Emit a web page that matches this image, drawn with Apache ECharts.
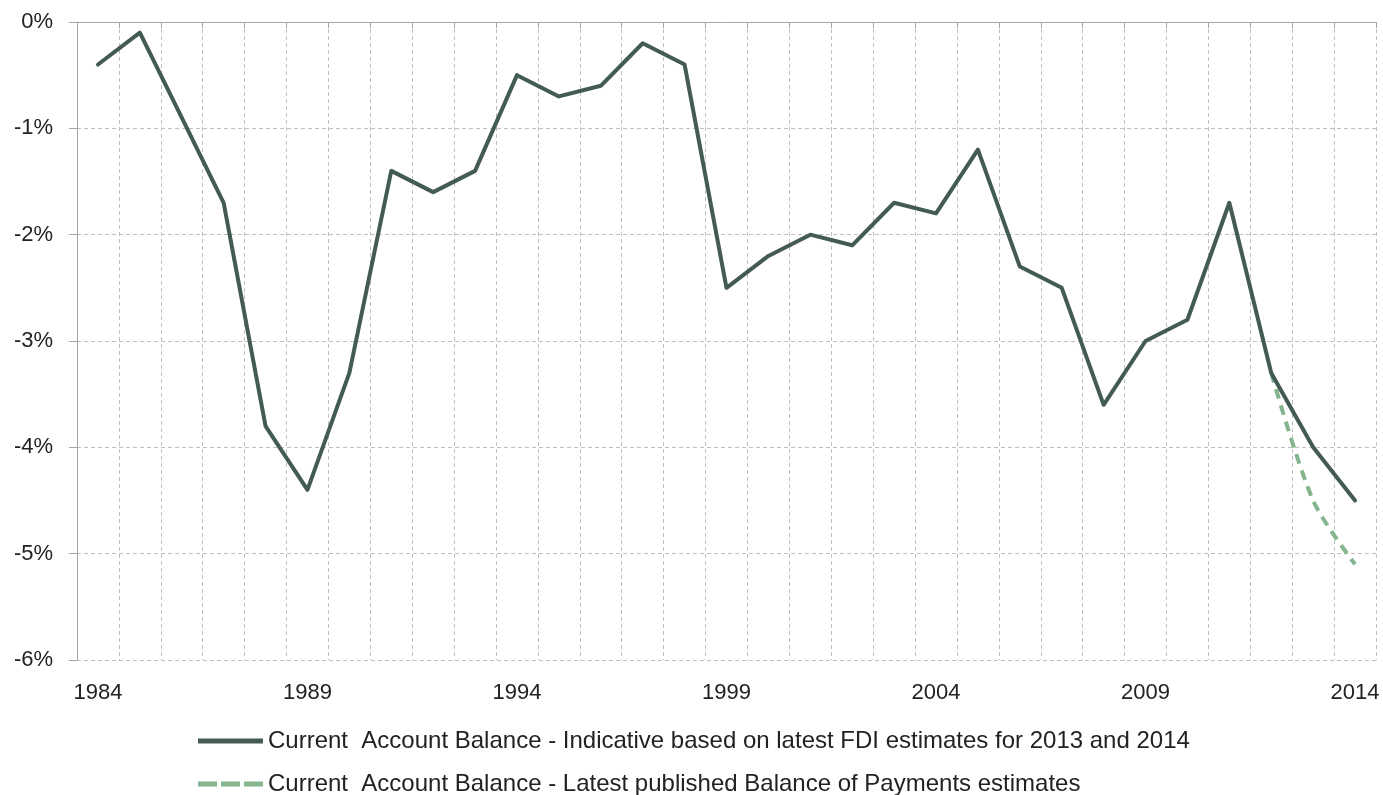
<!DOCTYPE html>
<html>
<head>
<meta charset="utf-8">
<script src="https://cdn.jsdelivr.net/npm/echarts@6/dist/echarts.min.js"></script>
<style>
  html, body { margin: 0; padding: 0; background: #fff; }
  #chart { width: 1383px; height: 795px; }
</style>
</head>
<body>
<div id="chart"></div>
<script>
// years on the category axis
const years = []
for (let y = 1984; y <= 2014; y++) years.push(String(y))

// current account balance, % of GDP
const indicative = [
  -0.4, -0.1, -0.9, -1.7, -3.8, -4.4, -3.3, -1.4, -1.6, -1.4,
  -0.5, -0.7, -0.6, -0.2, -0.4, -2.5, -2.2, -2.0, -2.1, -1.7,
  -1.8, -1.2, -2.3, -2.5, -3.6, -3.0, -2.8, -1.7, -3.3, -4.0, -4.5,
]
const published = years.map(() => null)
published[28] = -3.3
published[29] = -4.5
published[30] = -5.1

const nameSolid = 'Current  Account Balance - Indicative based on latest FDI estimates for 2013 and 2014'
const nameDashed = 'Current  Account Balance - Latest published Balance of Payments estimates'

const textColor = '#222'
const fontFamily = '"Liberation Sans", Arial, sans-serif'
const solidColor = '#435a55'
const dashColor = '#84b58f'

const legendBase = {
  orient: 'vertical',
  left: 198,
  padding: 0,
  itemWidth: 65,
  itemHeight: 5,
  textStyle: { fontSize: 24, color: textColor, fontFamily },
}

const chart = echarts.init(document.getElementById('chart'))
chart.setOption({
  animation: false,
  textStyle: { fontFamily },
  grid: { left: 77, right: 7, top: 22, bottom: 135 },
  legend: [
    { ...legendBase, top: 729, data: [{ name: nameSolid, icon: 'rect' }] },
    {
      ...legendBase,
      top: 772,
      data: [{ name: nameDashed, icon: 'path://M0,0h19v5h-19z M23,0h19v5h-19z M46,0h19v5h-19z' }],
    },
  ],
  xAxis: [
    {
      type: 'category',
      data: years,
      position: 'bottom',
      axisLine: { show: false },
      axisTick: { show: false },
      axisLabel: { interval: 4, fontSize: 22, color: textColor, margin: 22 },
      splitLine: {
        show: true,
        interval: 0,
        lineStyle: { color: '#c0c0c0', type: [4, 3], width: 1 },
      },
    },
    {
      type: 'category',
      data: years,
      position: 'top',
      axisLine: { show: true, lineStyle: { color: '#a6a6a6', width: 1 } },
      axisTick: { show: true, inside: true, length: 6, interval: 0, lineStyle: { color: '#a6a6a6' } },
      axisLabel: { show: false },
      splitLine: { show: false },
    },
  ],
  yAxis: {
    type: 'value',
    min: -6,
    max: 0,
    interval: 1,
    axisLine: { show: true, lineStyle: { color: '#a6a6a6', width: 1 } },
    axisTick: { show: true, length: 8, lineStyle: { color: '#a6a6a6' } },
    axisLabel: { fontSize: 22, color: textColor, margin: 24, formatter: v => v + '%' },
    splitLine: { lineStyle: { color: '#c0c0c0', type: [4, 3], width: 1 } },
  },
  series: [
    {
      name: nameDashed,
      type: 'line',
      data: published,
      symbol: 'none',
      smooth: 0.3,
      z: 2,
      lineStyle: { color: dashColor, width: 4, type: [10, 7] },
      itemStyle: { color: dashColor },
    },
    {
      name: nameSolid,
      type: 'line',
      data: indicative,
      symbol: 'none',
      z: 3,
      lineStyle: { color: solidColor, width: 4, cap: 'round', join: 'round' },
      itemStyle: { color: solidColor },
    },
  ],
})
</script>
</body>
</html>
